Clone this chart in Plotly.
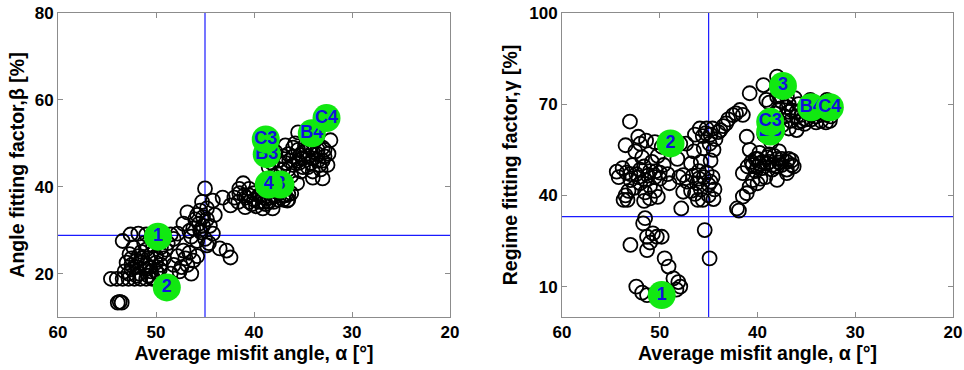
import plotly.graph_objects as go

# ---------------- data ----------------
# Left panel: angle fitting factor beta vs average misfit angle alpha
left_alpha = [
    53.9, 53.7, 53.5,
    54.6, 54.0, 53.4, 52.8, 52.2, 51.6, 51.0, 50.4,
    53.4, 52.6, 51.8, 51.0, 48.5, 47.8, 48.2,
    53.0, 52.5, 52.0, 51.5, 51.0, 50.5, 50.0, 49.5, 49.0, 52.3, 51.2, 50.3, 52.7, 51.7,
    50.8, 49.8, 49.2, 53.2, 52.0, 50.3, 48.8, 49.5, 50.2, 52.5, 51.5, 50.6, 49.6,
    48.2, 47.6, 47.2, 46.8, 46.4, 47.0, 46.2, 47.8, 48.5, 46.6, 47.4, 45.8,
    45.0, 46.8, 44.2, 43.2, 43.5, 42.4, 42.8, 44.2, 46.2, 45.6, 45.2, 44.8, 45.8, 46.4,
    45.0, 44.6, 45.4, 46.0, 44.5, 45.3, 44.8, 46.6, 45.5, 44.0, 47.2,
    41.1, 42.4, 40.9, 39.1, 38.1, 42.0, 41.5, 40.5, 40.0, 39.5, 39.0, 38.5, 38.0, 37.5,
    37.0, 36.5, 36.2, 40.8, 41.6, 40.2, 39.8, 38.8, 37.8, 40.5, 36.8,
    35.5, 34.0, 33.0, 32.4, 32.2, 35.6, 37.5, 37.0, 36.5, 36.0, 35.5, 35.0, 34.5, 34.0,
    33.5, 33.0, 32.5, 36.8, 35.8, 34.8, 33.8, 33.2, 35.2, 36.2, 37.2, 38.0, 38.5, 34.2,
    32.8, 36.4, 35.4, 37.8, 38.6,
    36.0, 35.0, 34.5, 34.0, 33.5, 33.0, 35.5, 36.5, 35.0, 34.0, 33.5, 32.8, 36.0, 37.0,
    35.3, 34.3, 33.3, 36.8, 37.6, 38.2,
    41.0, 40.0, 39.0, 38.0, 37.0, 36.5, 37.5, 39.5, 38.5, 40.5, 41.5, 36.6,
    52.0, 51.0, 50.0, 51.5, 50.5, 52.5, 51.0, 49.5, 50.0, 52.8, 51.8, 50.8,
    45.2, 45.5, 44.8, 45.8,
]
left_beta = [
    13.3, 13.5, 13.3,
    18.8, 18.8, 18.8, 18.8, 18.8, 18.8, 18.8, 18.8,
    27.5, 29.0, 29.2, 29.0, 29.0, 29.2, 28.0,
    22.5, 21.0, 23.0, 25.0, 22.0, 20.5, 24.0, 22.0, 25.5, 26.0, 27.0, 26.5, 24.5, 20.0,
    23.5, 20.0, 23.5, 20.5, 19.5, 19.0, 27.0, 26.0, 28.0, 22.0, 22.5, 21.5, 21.0,
    22.0, 20.5, 25.3, 22.0, 20.0, 23.5, 23.0, 24.0, 20.0, 24.8, 21.5, 24.0,
    39.6, 34.1, 36.8, 37.5, 25.8, 23.7, 25.3, 29.2, 30.4, 31.5, 33.0, 35.0, 27.5, 28.5,
    28.0, 27.0, 29.5, 32.5, 31.0, 36.5, 26.5, 29.8, 34.5, 33.5, 31.5,
    40.8, 35.7, 35.3, 35.0, 35.0, 37.5, 38.5, 39.5, 37.0, 38.0, 36.5, 37.5, 36.5, 37.0,
    37.0, 37.0, 38.5, 37.5, 36.5, 36.0, 35.5, 36.0, 37.8, 38.0, 38.0,
    52.5, 42.1, 41.9, 47.6, 50.7, 40.8, 46.0, 44.0, 47.5, 45.0, 48.5, 46.5, 44.5, 48.0,
    46.0, 49.0, 45.0, 49.5, 50.0, 49.5, 50.5, 44.0, 43.5, 42.5, 41.5, 42.5, 44.5, 45.5,
    47.0, 46.0, 45.5, 48.0, 46.5,
    47.0, 48.0, 47.0, 46.5, 47.5, 46.0, 46.0, 44.0, 44.5, 43.5, 48.5, 48.5, 49.0, 47.0,
    47.3, 49.0, 45.0, 45.5, 43.0, 45.5,
    38.0, 38.5, 37.5, 38.0, 38.0, 38.2, 38.5, 36.5, 36.5, 36.5, 39.5, 36.8,
    21.5, 21.0, 22.5, 23.5, 24.5, 23.5, 25.5, 24.5, 20.5, 20.0, 24.0, 19.5,
    31.0, 30.0, 32.5, 33.5,
]

# Right panel: regime fitting factor gamma vs average misfit angle alpha
right_alpha = [
    53.05, 52.2, 52.0, 51.4, 50.5, 49.8,
    54.4, 54.2, 53.8, 53.4, 53.0, 52.8, 52.4, 52.0, 51.6, 51.2, 50.8, 50.4, 50.0, 49.6,
    49.2, 51.0, 50.5, 51.5, 52.6, 53.2, 49.0, 50.2, 51.8, 52.5, 53.5,
    53.7, 53.3, 53.5, 51.0, 50.2, 51.6,
    51.5, 51.7, 51.3, 50.3, 49.8, 50.7, 51.0, 53.0, 51.3, 49.5, 49.1, 48.6, 47.9, 48.1,
    48.3, 52.4, 51.3, 51.8, 47.8, 47.6, 48.2, 48.0,
    45.9, 45.2, 44.6, 46.4, 45.6, 44.8, 47.9, 47.3, 46.5, 45.5, 44.5, 47.6, 46.6, 46.0,
    45.2, 44.6, 46.2, 45.0, 44.4, 46.8, 47.2, 46.1, 45.6, 45.0, 44.5, 45.8, 44.8, 46.8,
    45.4, 44.9, 43.8, 43.2, 42.5, 41.8, 42.2, 43.0, 41.5, 44.3,
    42.1, 41.9, 41.5, 41.1, 40.8, 41.1, 41.5, 40.8, 40.8, 39.4, 38.0, 39.1, 40.5, 40.0,
    39.5, 39.0, 38.5, 38.0, 37.5, 37.0, 36.5, 36.3, 41.0, 40.2, 39.8, 38.8, 37.8, 38.0,
    37.0, 39.2, 40.0, 38.6, 39.3, 38.2, 38.8, 37.6, 36.8, 39.7, 40.6,
    37.0, 36.0, 34.6, 32.9, 36.5, 36.0, 35.5, 35.0, 34.5, 34.0, 33.5, 33.0, 32.5, 32.2,
    35.8, 34.2, 36.6, 33.8, 35.2, 36.2, 32.6, 37.2, 37.5, 36.8,
    40.5, 40.0, 39.5, 39.0, 38.5, 38.0, 37.5, 37.0, 36.5, 39.8, 38.8, 37.8, 40.2, 36.8,
    38.3,
    35.5, 35.0, 34.5, 34.0, 33.5, 33.0, 32.6, 36.0, 35.8, 34.8, 36.8, 37.0, 37.8, 38.0,
    53.0, 52.0, 51.0, 50.5, 51.5, 52.2, 50.0,
    46.0, 45.5, 44.8, 45.8, 46.4, 44.9, 45.3, 44.0, 43.5,
]
right_gamma = [
    64.3, 59.3, 57.0, 58.0, 57.5, 56.0,
    47.8, 46.0, 49.0, 47.5, 45.0, 50.0, 47.0, 44.0, 49.5, 46.5, 51.0, 48.0, 45.5, 50.0,
    47.0, 43.0, 41.5, 41.0, 42.5, 41.5, 44.0, 53.0, 52.5, 54.5, 56.5,
    38.5, 38.5, 40.0, 39.0, 39.5, 38.2,
    32.5, 30.8, 26.4, 26.4, 26.4, 27.5, 24.5, 23.7, 22.0, 19.3, 16.6, 12.7, 10.0, 11.5,
    9.0, 10.0, 7.2, 8.0, 35.7, 41.2, 52.0, 46.0,
    62.0, 62.0, 62.0, 60.0, 59.5, 60.0, 57.0, 57.0, 54.5, 55.5, 55.0, 46.7, 46.5, 48.0,
    47.5, 46.0, 44.0, 43.5, 42.0, 41.5, 44.5, 38.5, 38.5, 40.0, 38.8, 51.0, 51.5, 50.5,
    28.6, 19.3, 61.5, 63.7, 66.4, 68.1, 67.0, 65.0, 66.5, 58.5,
    35.7, 35.0, 39.6, 40.7, 42.9, 59.3, 47.3, 55.0, 73.6, 76.3, 79.1, 71.4, 45.0, 52.0,
    49.0, 50.5, 48.5, 52.0, 50.0, 48.5, 51.5, 49.5, 49.5, 48.0, 54.0, 53.5, 54.5, 45.1,
    47.3, 46.0, 44.0, 57.5, 60.0, 67.0, 70.5, 71.0, 70.0, 45.5, 51.0,
    72.5, 61.5, 71.4, 71.4, 68.0, 66.0, 64.5, 67.5, 65.0, 64.0, 66.5, 64.0, 66.0, 68.0,
    70.0, 68.5, 64.5, 70.0, 63.5, 72.0, 70.5, 66.0, 63.0, 62.0,
    50.0, 49.5, 51.0, 52.5, 50.0, 49.5, 52.0, 51.0, 50.0, 50.5, 51.0, 50.8, 52.0, 52.0,
    53.0,
    66.5, 65.0, 66.5, 66.0, 64.5, 66.5, 64.5, 67.5, 64.0, 67.8, 67.5, 69.0, 68.5, 72.5,
    47.0, 48.5, 48.0, 46.0, 45.0, 46.0, 47.5,
    45.5, 46.0, 44.5, 42.0, 40.5, 57.0, 60.5, 60.8, 62.8,
]

# Labelled cases (drawn in this order, later ones on top)
left_labels = ["1", "2", "3", "4", "B3", "C3", "B4", "C4"]
left_lab_alpha = [49.8, 48.9, 37.3, 38.5, 38.7, 38.8, 34.1, 32.6]
left_lab_beta = [28.5, 16.8, 40.5, 40.5, 47.5, 50.9, 52.3, 55.8]

right_labels = ["1", "2", "4", "B3", "C3", "3", "B4", "C4"]
right_lab_alpha = [49.8, 48.9, 38.6, 38.7, 38.7, 37.4, 34.5, 32.6]
right_lab_gamma = [7.2, 57.1, 61.5, 61.0, 64.2, 76.0, 69.0, 69.0]

# reference lines
left_vline, left_hline = 45.0, 28.8
right_vline, right_hline = 45.0, 33.0

x_ticks = [60, 50, 40, 30, 20]
left_y_ticks = [20, 40, 60, 80]
right_y_ticks = [10, 40, 70, 100]

# ---------------- figure ----------------
W, H = 964, 370
FONT = "Liberation Sans, Arial, sans-serif"
BLUE = "#1a1aff"
GREEN = "#11e811"

fig = go.Figure()

fig.add_trace(go.Scatter(
    x=left_alpha, y=left_beta, mode="markers", xaxis="x", yaxis="y",
    marker=dict(symbol="circle-open", size=14, color="black", line=dict(width=1.8)),
    hoverinfo="skip", showlegend=False))
fig.add_trace(go.Scatter(
    x=right_alpha, y=right_gamma, mode="markers", xaxis="x2", yaxis="y2",
    marker=dict(symbol="circle-open", size=14, color="black", line=dict(width=1.8)),
    hoverinfo="skip", showlegend=False))

for lab, xa, yb in zip(left_labels, left_lab_alpha, left_lab_beta):
    fig.add_trace(go.Scatter(
        x=[xa], y=[yb], mode="markers+text", text=[lab], textposition="middle center",
        xaxis="x", yaxis="y",
        marker=dict(size=28, color=GREEN, line=dict(width=0)),
        textfont=dict(family=FONT, size=18, color="#1010dd", weight="bold"),
        hoverinfo="skip", showlegend=False))

for lab, xa, yb in zip(right_labels, right_lab_alpha, right_lab_gamma):
    fig.add_trace(go.Scatter(
        x=[xa], y=[yb], mode="markers+text", text=[lab], textposition="middle center",
        xaxis="x2", yaxis="y2",
        marker=dict(size=28, color=GREEN, line=dict(width=0)),
        textfont=dict(family=FONT, size=18, color="#1010dd", weight="bold"),
        hoverinfo="skip", showlegend=False))

shapes = [
    dict(type="line", xref="x", yref="y domain", x0=left_vline, x1=left_vline, y0=0, y1=1,
         line=dict(color=BLUE, width=1.2), layer="below"),
    dict(type="line", xref="x domain", yref="y", x0=0, x1=1, y0=left_hline, y1=left_hline,
         line=dict(color=BLUE, width=1.2), layer="below"),
    dict(type="line", xref="x2", yref="y2 domain", x0=right_vline, x1=right_vline, y0=0, y1=1,
         line=dict(color=BLUE, width=1.2), layer="below"),
    dict(type="line", xref="x2 domain", yref="y2", x0=0, x1=1, y0=right_hline, y1=right_hline,
         line=dict(color=BLUE, width=1.2), layer="below"),
]

tickfont = dict(family=FONT, size=17, color="black", weight="bold")
titlefont = dict(family=FONT, size=19.5, color="black", weight="bold")

ydom = [1 - 317 / H, 1 - 13 / H]
axis_common = dict(showgrid=False, zeroline=False, showline=True, linecolor="#8c8c8c",
                   linewidth=1, mirror="ticks", ticks="inside", ticklen=5, tickcolor="#8c8c8c",
                   tickfont=tickfont, automargin=False)

fig.update_layout(
    width=W, height=H,
    margin=dict(l=0, r=0, t=0, b=0),
    paper_bgcolor="white", plot_bgcolor="white",
    shapes=shapes,
    xaxis=dict(domain=[58 / W, 450 / W], range=[60, 20], tickvals=x_ticks,
               title=dict(text="Average misfit angle, α [°]", font=titlefont, standoff=2),
               anchor="y", **axis_common),
    yaxis=dict(domain=ydom, range=[10, 80], tickvals=left_y_ticks,
               title=dict(text="Angle fitting factor,β [%]", font=titlefont, standoff=4),
               anchor="x", **axis_common),
    xaxis2=dict(domain=[562 / W, 953 / W], range=[60, 20], tickvals=x_ticks,
                title=dict(text="Average misfit angle, α [°]", font=titlefont, standoff=2),
                anchor="y2", **axis_common),
    yaxis2=dict(domain=ydom, range=[0, 100], tickvals=right_y_ticks,
                title=dict(text="Regime fitting factor,γ [%]", font=titlefont, standoff=6),
                anchor="x2", **axis_common),
)

fig.write_html("out.html", config={"displayModeBar": False},
               post_script="document.body.style.margin='0';document.body.style.overflow='hidden';")
